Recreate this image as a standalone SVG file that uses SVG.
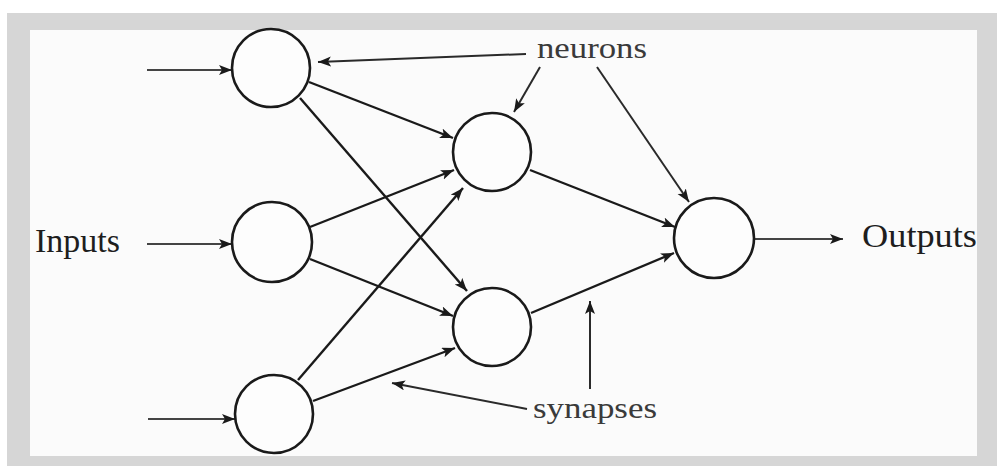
<svg xmlns="http://www.w3.org/2000/svg" width="997" height="466" viewBox="0 0 997 466">
<defs>
<marker id="ah" markerUnits="userSpaceOnUse" markerWidth="14" markerHeight="12" refX="13" refY="5" orient="auto">
<path d="M0,0 L13,5 L0,10 L3,5 z" fill="#1a1a1a"/>
</marker>
<style>
.node{fill:#fdfdfd;stroke:#1a1a1a;stroke-width:2.6}
.c{stroke:#1a1a1a;stroke-width:2.4;fill:none;marker-end:url(#ah)}
.g{stroke:#444;stroke-width:2.2;fill:none;marker-end:url(#ah)}
.a{stroke:#2a2a2a;stroke-width:2;fill:none;marker-end:url(#ah)}
.big{font-family:"Liberation Serif",serif;font-size:34px;fill:#1e1e1e}
.lab{font-family:"Liberation Serif",serif;font-size:30px;fill:#3a3a3a}
</style>
</defs>
<rect x="0" y="0" width="997" height="466" fill="#ffffff"/>
<rect x="7" y="13" width="990" height="453" fill="#d6d6d6"/>
<rect x="30" y="30" width="947" height="426" fill="#fbfbfb"/>
<g id="connectors">
<line class="g" x1="147" y1="70" x2="232" y2="70"/>
<line class="g" x1="147" y1="244" x2="232" y2="244"/>
<line class="g" x1="148" y1="419" x2="235" y2="419"/>
<line class="c" x1="309" y1="82" x2="453" y2="138"/>
<line class="c" x1="300" y1="98" x2="467" y2="291"/>
<line class="c" x1="310" y1="227" x2="454" y2="170"/>
<line class="c" x1="310" y1="259" x2="453" y2="316"/>
<line class="c" x1="298" y1="380" x2="463" y2="188"/>
<line class="c" x1="313" y1="401" x2="455" y2="348"/>
<line class="c" x1="530" y1="170" x2="675" y2="227"/>
<line class="c" x1="531" y1="313" x2="674" y2="253"/>
<line class="g" x1="755" y1="239" x2="843" y2="239"/>
<line class="a" x1="526" y1="54" x2="318" y2="62"/>
<line class="a" x1="540" y1="67" x2="514" y2="112"/>
<line class="a" x1="597" y1="67" x2="689" y2="202"/>
<line class="a" x1="590" y1="389" x2="590" y2="301"/>
<line class="a" x1="527" y1="409" x2="392" y2="383"/>
</g>
<g id="in1"><circle class="node" cx="271" cy="68" r="39"/></g>
<g id="in2"><circle class="node" cx="272" cy="242" r="40"/></g>
<g id="in3"><circle class="node" cx="274" cy="414" r="39"/></g>
<g id="h1"><circle class="node" cx="492" cy="152" r="39"/></g>
<g id="h2"><circle class="node" cx="492" cy="327" r="39"/></g>
<g id="out"><circle class="node" cx="714" cy="238" r="40"/></g>
<g id="labels">
<text class="big" x="35" y="252" textLength="85" lengthAdjust="spacingAndGlyphs">Inputs</text>
<text class="big" x="862" y="247" textLength="115" lengthAdjust="spacingAndGlyphs">Outputs</text>
<text class="lab" x="537" y="58" textLength="110" lengthAdjust="spacingAndGlyphs">neurons</text>
<text class="lab" x="533" y="418" textLength="124" lengthAdjust="spacingAndGlyphs">synapses</text>
</g>
</svg>
